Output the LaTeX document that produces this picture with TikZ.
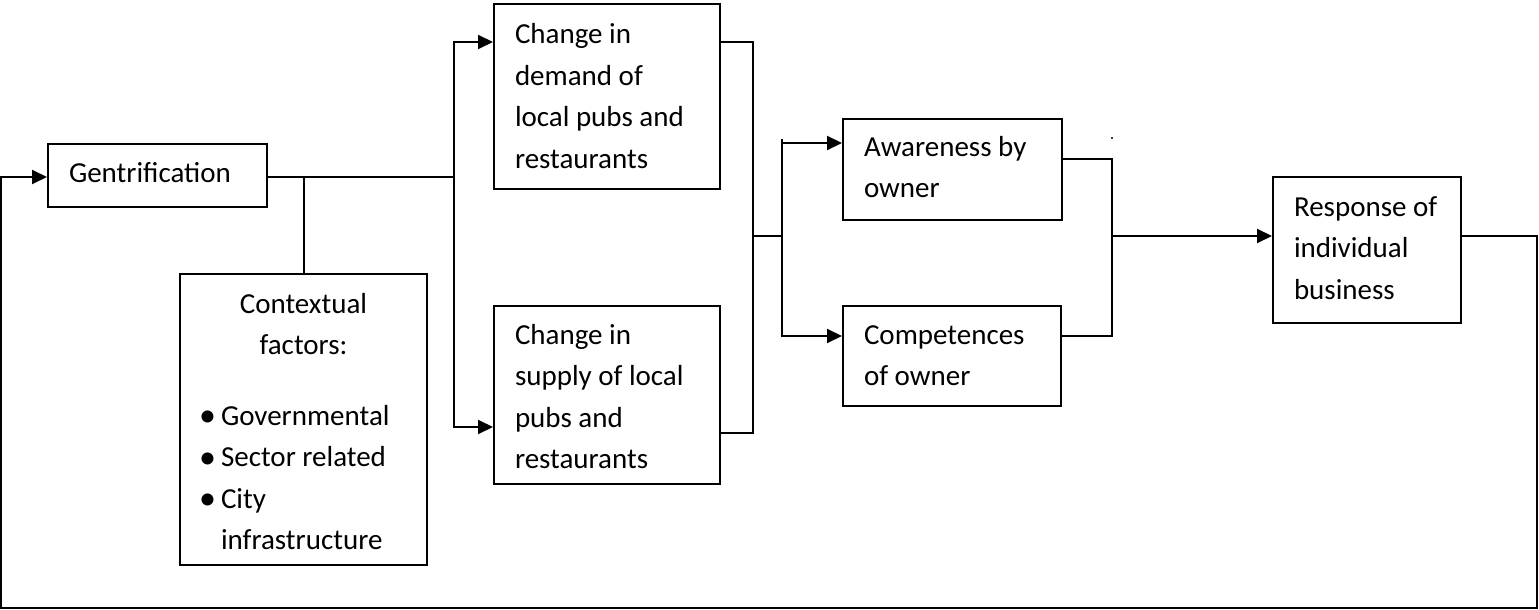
\documentclass[tikz,border=0pt]{standalone}
\usepackage{fontspec}
\setmainfont{Carlito}
\usetikzlibrary{arrows.meta}
\newcommand{\blist}[1]{\makebox[\linewidth][l]{\hspace{41pt}\llap{{\fontsize{34}{34}\selectfont\raisebox{-1.5pt}{\textbullet}}\hspace{5pt}}#1}}
\begin{document}
\begin{tikzpicture}[x=1pt,y=-1pt,
  box/.style={draw, line width=2pt, inner sep=0pt, anchor=north west, align=flush left,
              font=\fontsize{29}{41.5}\selectfont},
  con/.style={line width=2pt},
  arr/.style={con, -{Triangle[length=15pt,width=14pt]}}]
\useasboundingbox (0,0) rectangle (1539,610);

% boxes
\node[box, minimum width=219pt, text width=177pt, text height=38pt, text depth=25pt] (gent) at (47,143) {Gentrification};
\node[box, align=flush center, minimum width=247pt, text width=247pt, text height=39pt, text depth=252pt] (ctx) at (179,273)
  {Contextual\\factors:\\[29pt]\blist{Governmental}\\\blist{Sector related}\\\blist{City}\\\makebox[\linewidth][l]{\hspace{41pt}infrastructure}};
\node[box, minimum width=226pt, text width=184pt, text height=40pt, text depth=145pt] (demand) at (493,3)
  {Change in\\demand of\\\mbox{local pubs and}\\restaurants};
\node[box, minimum width=226pt, text width=184pt, text height=38pt, text depth=140pt] (supply) at (493,305)
  {Change in\\\mbox{supply of local}\\pubs and\\restaurants};
\node[box, minimum width=219pt, text width=177pt, text height=37pt, text depth=64pt] (aware) at (842,118)
  {\mbox{Awareness by}\\owner};
\node[box, minimum width=218pt, text width=176pt, text height=38pt, text depth=62pt] (comp) at (842,305)
  {Competences\\of owner};
\node[box, minimum width=188pt, text width=146pt, text height=39pt, text depth=107pt] (resp) at (1272,176)
  {\mbox{Response of}\\individual\\business};

% junctions
\coordinate (j1) at (454,177);
\coordinate (j2) at (753,236);
\coordinate (j3) at (782,236);
\coordinate (j3t) at (782,139);
\coordinate (j4) at (1112,236);
\coordinate (fb1) at (1537,608);
\coordinate (fb2) at (1,608);
\coordinate (dot) at (1112,138);

% connectors
\draw[con] ([yshift=-34pt]gent.north east) -- (j1);
\draw[arr] (j1) |- ([yshift=-39pt]demand.north west);
\draw[arr] (j1) |- ([yshift=-122pt]supply.north west);
\draw[con] (ctx.north) -- (ctx.north |- j1);

\draw[con] ([yshift=-39pt]demand.north east) -| (j2);
\draw[con] ([yshift=-128pt]supply.north east) -| (j2);
\draw[con] (j2) -- (j3);
\draw[con] (j3t) -- (j3);
\draw[arr] (j3) |- ([yshift=-25pt]aware.north west);
\draw[arr] (j3) |- ([yshift=-31pt]comp.north west);

\draw[con] ([yshift=-41pt]aware.north east) -| (j4);
\draw[con] ([yshift=-31pt]comp.north east) -| (j4);
\draw[arr] (j4) -- ([yshift=-60pt]resp.north west);
\fill (dot) circle (1.2pt);

\draw[arr] ([yshift=-60pt]resp.north east) -| (fb1) -- (fb2) |- ([yshift=-34pt]gent.north west);
\end{tikzpicture}
\end{document}
